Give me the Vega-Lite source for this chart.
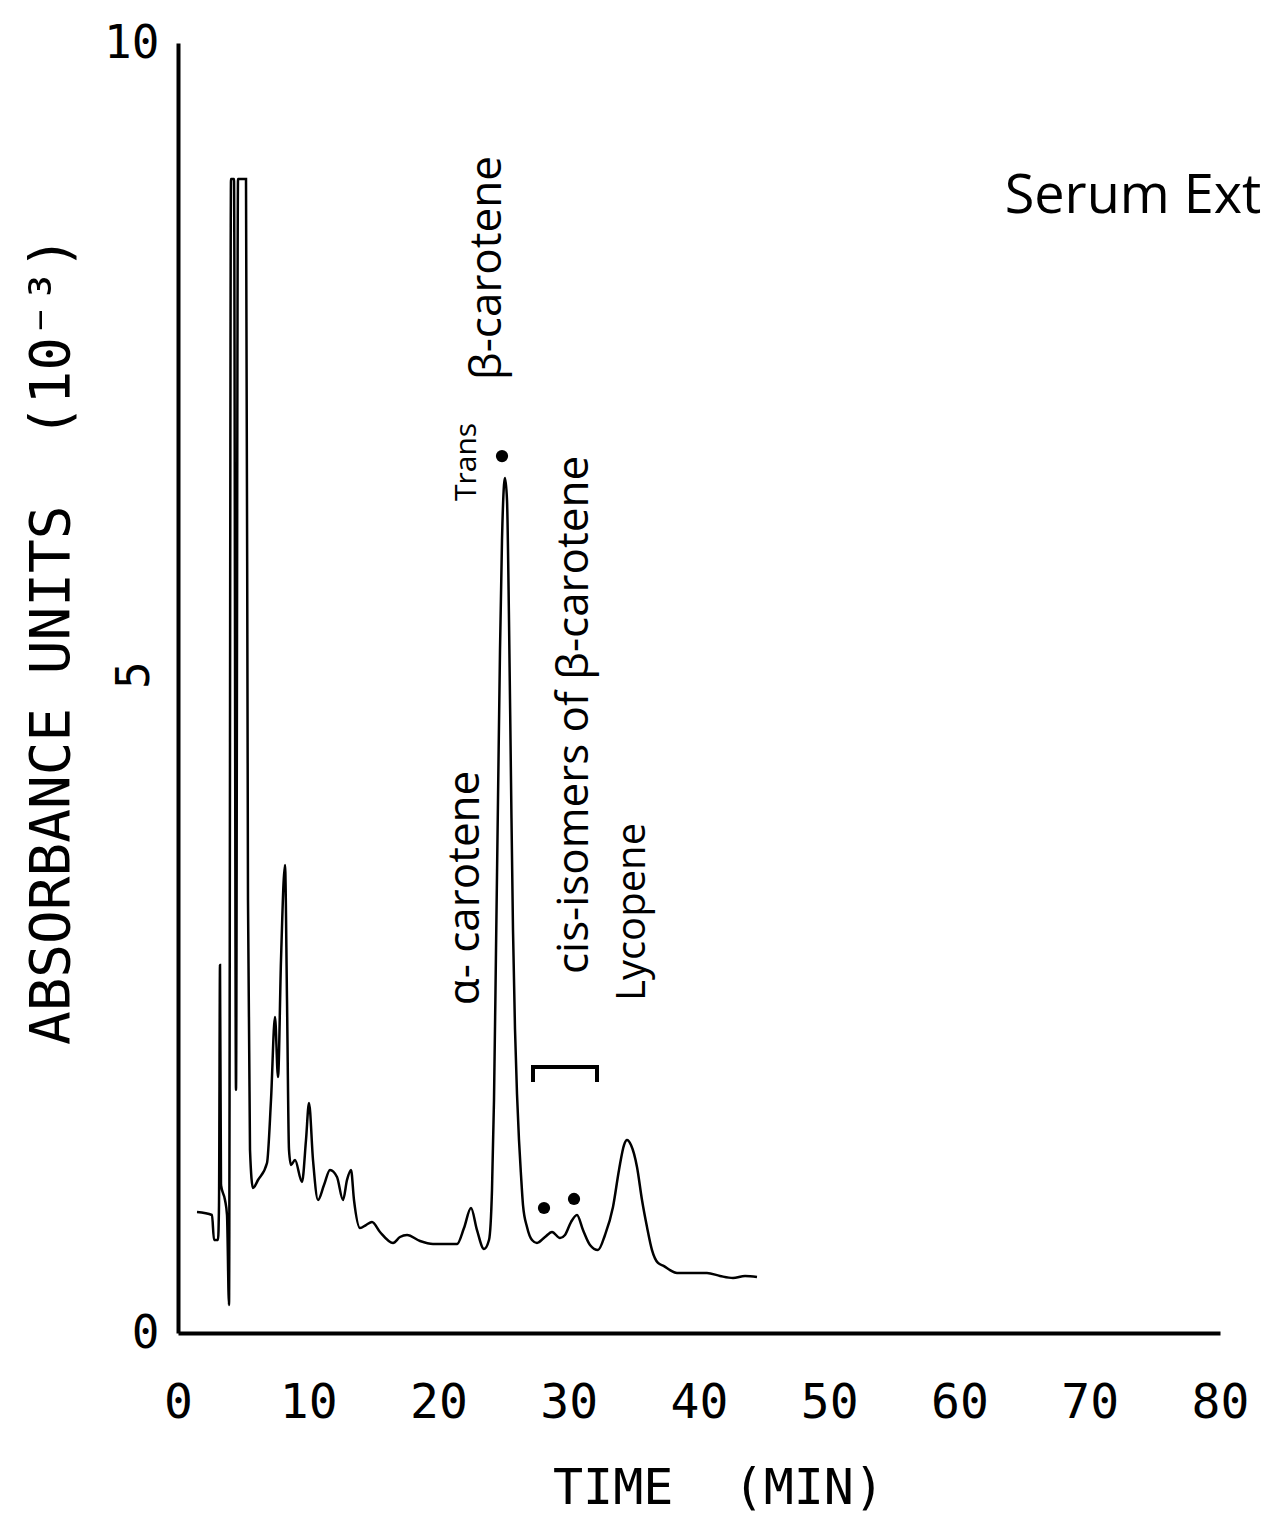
{
  "$schema": "https://vega.github.io/schema/vega-lite/v6.json",
  "width": 1042,
  "height": 1290,
  "autosize": {"type": "none"},
  "padding": {"left": 178, "top": 43, "right": 47, "bottom": 183},
  "background": "white",
  "config": {"view": {"stroke": null}},
  "datasets": {
    "trace": [
      {"time": 1.459, "absorbance": 0.938},
      {"time": 2.610, "absorbance": 0.915},
      {"time": 2.764, "absorbance": 0.721},
      {"time": 3.071, "absorbance": 0.721},
      {"time": 3.148, "absorbance": 0.992},
      {"time": 3.225, "absorbance": 2.853},
      {"time": 3.301, "absorbance": 1.147},
      {"time": 3.608, "absorbance": 1.031},
      {"time": 3.762, "absorbance": 0.915},
      {"time": 3.916, "absorbance": 0.217},
      {"time": 4.069, "absorbance": 8.946},
      {"time": 4.299, "absorbance": 8.946},
      {"time": 4.453, "absorbance": 1.884},
      {"time": 4.607, "absorbance": 8.946},
      {"time": 5.221, "absorbance": 8.946},
      {"time": 5.374, "absorbance": 3.357},
      {"time": 5.528, "absorbance": 1.419},
      {"time": 5.758, "absorbance": 1.124},
      {"time": 6.142, "absorbance": 1.186},
      {"time": 6.833, "absorbance": 1.318},
      {"time": 7.140, "absorbance": 1.806},
      {"time": 7.447, "absorbance": 2.450},
      {"time": 7.678, "absorbance": 1.984},
      {"time": 7.908, "absorbance": 2.891},
      {"time": 8.215, "absorbance": 3.628},
      {"time": 8.369, "absorbance": 2.581},
      {"time": 8.522, "absorbance": 1.419},
      {"time": 8.676, "absorbance": 1.302},
      {"time": 8.983, "absorbance": 1.341},
      {"time": 9.520, "absorbance": 1.171},
      {"time": 9.827, "absorbance": 1.496},
      {"time": 10.058, "absorbance": 1.783},
      {"time": 10.365, "absorbance": 1.341},
      {"time": 10.749, "absorbance": 1.031},
      {"time": 11.209, "absorbance": 1.147},
      {"time": 11.670, "absorbance": 1.264},
      {"time": 12.207, "absorbance": 1.209},
      {"time": 12.668, "absorbance": 1.031},
      {"time": 12.975, "absorbance": 1.186},
      {"time": 13.282, "absorbance": 1.264},
      {"time": 13.512, "absorbance": 1.031},
      {"time": 13.973, "absorbance": 0.814},
      {"time": 14.433, "absorbance": 0.837},
      {"time": 14.894, "absorbance": 0.860},
      {"time": 15.508, "absorbance": 0.783},
      {"time": 16.507, "absorbance": 0.698},
      {"time": 17.044, "absorbance": 0.744},
      {"time": 17.582, "absorbance": 0.760},
      {"time": 18.580, "absorbance": 0.713},
      {"time": 19.578, "absorbance": 0.690},
      {"time": 21.420, "absorbance": 0.690},
      {"time": 21.958, "absorbance": 0.814},
      {"time": 22.495, "absorbance": 0.969},
      {"time": 22.956, "absorbance": 0.798},
      {"time": 23.493, "absorbance": 0.651},
      {"time": 23.877, "absorbance": 0.721},
      {"time": 24.107, "absorbance": 1.109},
      {"time": 24.261, "absorbance": 1.806},
      {"time": 24.415, "absorbance": 2.969},
      {"time": 24.568, "absorbance": 4.132},
      {"time": 24.722, "absorbance": 5.295},
      {"time": 24.875, "absorbance": 6.147},
      {"time": 25.029, "absorbance": 6.574},
      {"time": 25.106, "absorbance": 6.628},
      {"time": 25.259, "absorbance": 6.457},
      {"time": 25.413, "absorbance": 5.527},
      {"time": 25.566, "absorbance": 4.287},
      {"time": 25.720, "absorbance": 3.124},
      {"time": 25.873, "absorbance": 2.357},
      {"time": 26.027, "absorbance": 1.853},
      {"time": 26.180, "absorbance": 1.496},
      {"time": 26.334, "absorbance": 1.225},
      {"time": 26.488, "absorbance": 0.992},
      {"time": 26.795, "absorbance": 0.822},
      {"time": 27.179, "absorbance": 0.721},
      {"time": 27.562, "absorbance": 0.698},
      {"time": 28.177, "absorbance": 0.744},
      {"time": 28.714, "absorbance": 0.783},
      {"time": 29.328, "absorbance": 0.736},
      {"time": 29.712, "absorbance": 0.760},
      {"time": 30.173, "absorbance": 0.860},
      {"time": 30.633, "absorbance": 0.915},
      {"time": 31.094, "absorbance": 0.798},
      {"time": 31.631, "absorbance": 0.682},
      {"time": 32.246, "absorbance": 0.643},
      {"time": 32.783, "absorbance": 0.760},
      {"time": 33.397, "absorbance": 0.977},
      {"time": 33.858, "absorbance": 1.264},
      {"time": 34.242, "absorbance": 1.457},
      {"time": 34.472, "absorbance": 1.496},
      {"time": 34.779, "absorbance": 1.457},
      {"time": 35.240, "absorbance": 1.287},
      {"time": 35.624, "absorbance": 1.031},
      {"time": 36.008, "absorbance": 0.822},
      {"time": 36.392, "absorbance": 0.643},
      {"time": 36.852, "absorbance": 0.543},
      {"time": 37.313, "absorbance": 0.519},
      {"time": 37.774, "absorbance": 0.488},
      {"time": 38.311, "absorbance": 0.465},
      {"time": 39.309, "absorbance": 0.465},
      {"time": 40.614, "absorbance": 0.465},
      {"time": 41.612, "absorbance": 0.442},
      {"time": 42.610, "absorbance": 0.426},
      {"time": 43.532, "absorbance": 0.442},
      {"time": 44.453, "absorbance": 0.434}
    ],
    "dots": [
      {"time": 24.875, "absorbance": 6.798},
      {"time": 28.100, "absorbance": 0.969},
      {"time": 30.403, "absorbance": 1.039}
    ],
    "bracket": [
      {"order": 1, "time": 27.255, "absorbance": 1.946},
      {"order": 2, "time": 27.255, "absorbance": 2.062},
      {"order": 3, "time": 32.169, "absorbance": 2.062},
      {"order": 4, "time": 32.169, "absorbance": 1.946}
    ],
    "midTick": [
      {"time": -1.46, "absorbance": 5.1, "label": "5"}
    ],
    "peakLabels": [
      {"time": 23.80, "absorbance": 8.256, "label": "β-carotene"},
      {"time": 22.11, "absorbance": 3.450, "label": "α- carotene"},
      {"time": 30.50, "absorbance": 4.791, "label": "cis-isomers of β-carotene"}
    ],
    "lycopeneLabel": [
      {"time": 34.93, "absorbance": 3.264, "label": "Lycopene"}
    ],
    "transLabel": [
      {"time": 22.19, "absorbance": 6.752, "label": "Trans"}
    ],
    "sampleLabel": [
      {"time": 73.32, "absorbance": 8.806, "label": "Serum Ext"}
    ]
  },
  "layer": [
    {
      "data": {"name": "trace"},
      "mark": {"type": "line", "color": "black", "strokeWidth": 2.5, "interpolate": "monotone"},
      "encoding": {
        "x": {
          "field": "time", "type": "quantitative",
          "scale": {"domain": [0, 80], "nice": false, "zero": false},
          "axis": {
            "values": [0, 10, 20, 30, 40, 50, 60, 70, 80],
            "format": "d",
            "title": "TIME\u00a0 (MIN)",
            "grid": false, "ticks": false,
            "domainColor": "black", "domainWidth": 4,
            "labelFont": "DejaVu Sans Mono", "labelFontSize": 48, "labelColor": "black",
            "labelPadding": 46, "labelFlush": false, "labelOverlap": false,
            "titleFont": "DejaVu Sans Mono", "titleFontSize": 50, "titleFontWeight": "normal",
            "titleColor": "black", "titleX": 540, "titleY": 155,
            "titleBaseline": "middle", "titleAlign": "center"
          }
        },
        "y": {
          "field": "absorbance", "type": "quantitative",
          "scale": {"domain": [0, 10], "nice": false, "zero": true},
          "axis": {
            "values": [0, 10],
            "format": "d",
            "title": "ABSORBANCE UNITS\u00a0 (10⁻³)",
            "grid": false, "ticks": false,
            "domainColor": "black", "domainWidth": 4,
            "labelFont": "DejaVu Sans Mono", "labelFontSize": 46, "labelColor": "black",
            "labelPadding": 19, "labelFlush": false, "labelOverlap": false,
            "titleFont": "DejaVu Sans Mono", "titleFontSize": 56, "titleFontWeight": "normal",
            "titleColor": "black", "titleX": -127, "titleY": 597, "titleAngle": 270,
            "titleBaseline": "middle", "titleAlign": "center"
          }
        }
      }
    },
    {
      "data": {"name": "midTick"},
      "mark": {"type": "text", "angle": 270, "font": "DejaVu Sans Mono", "fontSize": 46, "color": "black", "align": "center", "baseline": "bottom"},
      "encoding": {
        "x": {"field": "time", "type": "quantitative"},
        "y": {"field": "absorbance", "type": "quantitative"},
        "text": {"field": "label"}
      }
    },
    {
      "data": {"name": "bracket"},
      "mark": {"type": "line", "color": "black", "strokeWidth": 4, "interpolate": "linear"},
      "encoding": {
        "x": {"field": "time", "type": "quantitative"},
        "y": {"field": "absorbance", "type": "quantitative"},
        "order": {"field": "order", "type": "quantitative"}
      }
    },
    {
      "data": {"name": "dots"},
      "mark": {"type": "point", "filled": true, "color": "black", "size": 150, "opacity": 1},
      "encoding": {
        "x": {"field": "time", "type": "quantitative"},
        "y": {"field": "absorbance", "type": "quantitative"}
      }
    },
    {
      "data": {"name": "peakLabels"},
      "mark": {"type": "text", "angle": 270, "font": "Open Sans", "fontSize": 44, "color": "black", "align": "center", "baseline": "middle"},
      "encoding": {
        "x": {"field": "time", "type": "quantitative"},
        "y": {"field": "absorbance", "type": "quantitative"},
        "text": {"field": "label"}
      }
    },
    {
      "data": {"name": "lycopeneLabel"},
      "mark": {"type": "text", "angle": 270, "font": "Open Sans", "fontSize": 40, "color": "black", "align": "center", "baseline": "middle"},
      "encoding": {
        "x": {"field": "time", "type": "quantitative"},
        "y": {"field": "absorbance", "type": "quantitative"},
        "text": {"field": "label"}
      }
    },
    {
      "data": {"name": "transLabel"},
      "mark": {"type": "text", "angle": 270, "font": "Open Sans", "fontSize": 30, "color": "black", "align": "center", "baseline": "middle"},
      "encoding": {
        "x": {"field": "time", "type": "quantitative"},
        "y": {"field": "absorbance", "type": "quantitative"},
        "text": {"field": "label"}
      }
    },
    {
      "data": {"name": "sampleLabel"},
      "mark": {"type": "text", "font": "Open Sans", "fontSize": 54, "color": "black", "align": "center", "baseline": "middle"},
      "encoding": {
        "x": {"field": "time", "type": "quantitative"},
        "y": {"field": "absorbance", "type": "quantitative"},
        "text": {"field": "label"}
      }
    }
  ]
}
